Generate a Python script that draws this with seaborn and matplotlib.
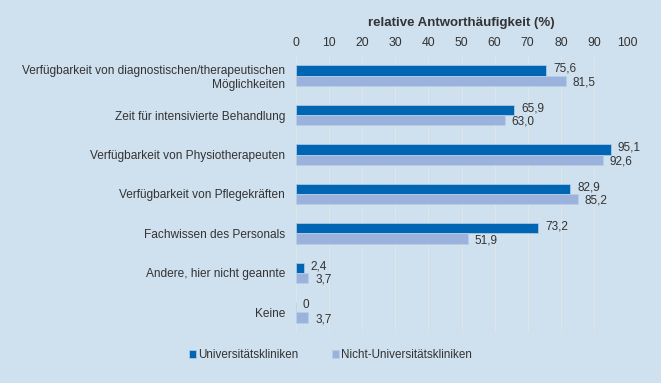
import matplotlib
matplotlib.use("Agg")
import matplotlib.pyplot as plt
import pandas as pd
import seaborn as sns

CATEGORIES = [
    "Verfügbarkeit von diagnostischen/therapeutischen\nMöglichkeiten",
    "Zeit für intensivierte Behandlung",
    "Verfügbarkeit von Physiotherapeuten",
    "Verfügbarkeit von Pflegekräften",
    "Fachwissen des Personals",
    "Andere, hier nicht geannte",
    "Keine",
]
SERIES = ["Universitätskliniken", "Nicht-Universitätskliniken"]
UNI = [75.6, 65.9, 95.1, 82.9, 73.2, 2.4, 0]
NON_UNI = [81.5, 63.0, 92.6, 85.2, 51.9, 3.7, 3.7]
COLORS = ["#0066b3", "#9bb3dc"]
BG = "#cfe0ee"
TEXT = "#333333"


def fmt(v):
    if v == 0:
        return "0"
    return f"{v:.1f}".replace(".", ",")


def main():
    sns.set_theme(style="white")
    plt.rcParams["font.family"] = ["Liberation Sans", "DejaVu Sans"]

    df = pd.DataFrame({
        "Kategorie": CATEGORIES * 2,
        "Wert": UNI + NON_UNI,
        "Gruppe": [SERIES[0]] * len(UNI) + [SERIES[1]] * len(NON_UNI),
    })

    fig = plt.figure(figsize=(6.61, 3.83), dpi=100, facecolor=BG)
    ax = fig.add_axes([0.4478, 0.1332, 0.5008, 0.7206])
    ax.set_facecolor(BG)

    sns.barplot(
        data=df, x="Wert", y="Kategorie", hue="Gruppe", orient="h",
        palette=COLORS, saturation=1, width=0.52, edgecolor="#b8cfe6",
        linewidth=0.5, ax=ax, legend=True,
    )

    # value labels: dark ones nudged up, light ones nudged down
    for cont, vals, dy in zip(ax.containers, [UNI, NON_UNI], [1.2, -1.2]):
        for bar, v in zip(cont, vals):
            ax.annotate(fmt(v), (bar.get_x() + bar.get_width(),
                                 bar.get_y() + bar.get_height() / 2),
                        xytext=(5, dy), textcoords="offset points",
                        ha="left", va="center", fontsize=8.5, color=TEXT)

    ax.set_xlim(0, 100)
    ax.set_xticks(range(0, 101, 10))
    ax.xaxis.tick_top()
    ax.xaxis.set_label_position("top")
    ax.set_xlabel("relative Antworthäufigkeit (%)", fontsize=9.5,
                  fontweight="bold", color=TEXT, labelpad=8)
    ax.set_ylabel("")
    ax.tick_params(axis="both", length=0, labelsize=8.6, labelcolor=TEXT)
    ax.tick_params(axis="x", pad=5, labelsize=8.8)
    ax.tick_params(axis="y", pad=8)
    ax.grid(axis="x", color="#dfe3ea", linewidth=0.8)
    ax.set_axisbelow(True)
    for s in ax.spines.values():
        s.set_visible(False)

    ax.legend_.remove()
    handles, labels = ax.get_legend_handles_labels()
    fig.legend(handles, labels, loc="center", bbox_to_anchor=(0.5, 0.073),
               ncol=2, frameon=False, fontsize=8.4, handlelength=0.6,
               handleheight=0.6, handletextpad=0.2, columnspacing=2.8,
               labelcolor=TEXT)

    fig.savefig("out.png", dpi=100, facecolor=BG)
    plt.close(fig)


if __name__ == "__main__":
    main()
